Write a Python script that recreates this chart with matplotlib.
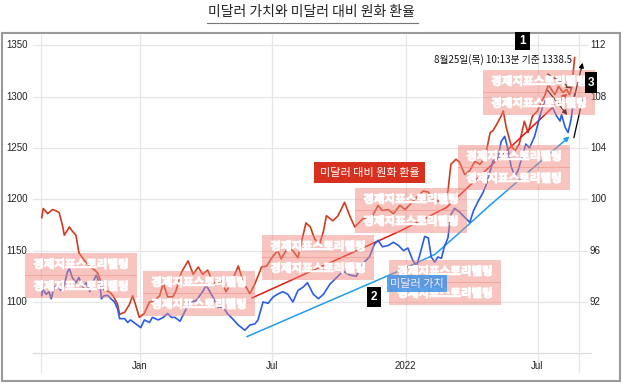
import numpy as np
import matplotlib
matplotlib.use('Agg')
import matplotlib.pyplot as plt
import matplotlib.dates as mdates
import matplotlib.transforms as mtrans
import matplotlib.patheffects as pe
from matplotlib.patches import Rectangle
from matplotlib.lines import Line2D

W, H = 622, 384
KR = ['Noto Sans CJK KR', 'DejaVu Sans']
NUM = ['Liberation Sans', 'DejaVu Sans']

START = mdates.date2num(np.datetime64('2020-08-19'))

# USD/KRW (left axis), days since START
krw_days = [0, 2, 6, 8, 15, 19, 24, 29, 31, 38, 42, 47, 51, 54, 59, 66, 73, 77, 82, 86,
            93, 98, 104, 107, 114, 120, 125, 129, 134, 141, 148, 154, 162, 167, 173, 180, 184, 192, 201, 208,
            215, 221, 228, 235, 242, 247, 253, 260, 270, 277, 286, 293, 302, 309, 316, 324, 329, 338, 345, 352,
            356, 363, 369, 375, 382, 387, 391, 400, 407, 416, 423, 430, 434, 441, 453, 462, 468, 476, 483, 492,
            499, 506, 515, 524, 531, 537, 546, 553, 558, 562, 569, 574, 581, 588, 595, 602, 609, 616, 620, 625,
            631, 634, 638, 645, 650, 656, 663, 668, 674, 681, 687, 691, 696, 700, 705, 710, 716, 721, 725, 728, 732]
krw = [1182, 1191, 1188, 1186, 1190, 1189, 1187, 1173, 1165, 1173, 1169, 1165, 1148, 1145, 1140, 1134, 1131, 1128, 1118, 1111,
       1110, 1106, 1098, 1088, 1090, 1097, 1106, 1097, 1085, 1089, 1100, 1101, 1106, 1118, 1105, 1105, 1110, 1129, 1140, 1127,
       1134, 1127, 1131, 1119, 1118, 1121, 1110, 1118, 1135, 1119, 1108, 1118, 1134, 1135, 1143, 1150, 1142, 1153, 1150, 1143,
       1156, 1177, 1173, 1161, 1157, 1169, 1184, 1179, 1184, 1197, 1184, 1173, 1176, 1181, 1182, 1194, 1189, 1190, 1186, 1194,
       1190, 1195, 1202, 1208, 1207, 1200, 1198, 1197, 1208, 1234, 1239, 1236, 1224, 1228, 1237, 1234, 1241, 1265, 1267, 1273,
       1281, 1286, 1270, 1252, 1247, 1254, 1276, 1265, 1281, 1286, 1296, 1301, 1312, 1307, 1302, 1310, 1304, 1307, 1302, 1309, 1338]

# dollar index (right axis)
dxy_days = [0, 1, 6, 10, 13, 17, 22, 26, 31, 35, 38, 42, 47, 51, 57, 61, 66, 70, 75, 80,
            82, 86, 91, 95, 100, 104, 107, 114, 118, 122, 129, 136, 141, 148, 152, 160, 167, 173, 178, 183,
            190, 197, 203, 212, 221, 226, 235, 242, 249, 255, 262, 270, 279, 286, 293, 297, 304, 311, 318, 324,
            331, 338, 345, 352, 359, 365, 373, 380, 387, 396, 405, 414, 423, 432, 441, 450, 457, 462, 468, 476,
            483, 490, 497, 503, 510, 515, 519, 526, 531, 535, 540, 544, 549, 553, 558, 562, 567, 574, 581, 588,
            593, 600, 606, 611, 616, 620, 627, 631, 636, 640, 645, 650, 654, 661, 665, 670, 677, 684, 689, 694,
            698, 703, 707, 712, 714, 719, 723, 727, 730, 732]
dxy = [92.5, 93.0, 92.6, 92.8, 92.25, 93.15, 93.3, 92.9, 93.3, 94.3, 94.6, 93.9, 93.5, 93.9, 93.15, 93.5, 92.8, 93.5, 94.1, 93.3,
       92.25, 92.5, 92.5, 92.25, 92.0, 91.5, 90.7, 90.7, 90.4, 90.6, 90.3, 90.0, 90.6, 90.4, 90.8, 90.6, 90.8, 91.1, 90.8, 90.8,
       90.5, 91.3, 92.0, 92.1, 92.8, 93.3, 92.4, 91.6, 91.6, 91.1, 90.7, 90.2, 89.8, 90.2, 90.3, 90.6, 92.0, 91.9, 92.4, 92.6,
       92.8, 92.6, 92.0, 92.9, 93.15, 93.5, 92.6, 92.25, 92.6, 93.4, 93.9, 94.4, 94.1, 94.0, 95.0, 95.5, 96.5, 96.8, 96.3, 96.4,
       96.65, 96.4, 96.0, 96.2, 95.2, 94.8, 95.6, 97.1, 97.0, 95.5, 95.1, 95.5, 95.4, 96.3, 97.0, 98.8, 99.3, 99.0, 98.6, 98.2,
       99.1, 99.9, 100.5, 101.2, 102.2, 103.0, 103.25, 104.5, 104.9, 104.0, 102.5, 101.8, 102.2, 103.5, 104.3, 104.0, 104.9, 106.4, 107.4, 107.9,
       107.4, 107.0, 106.5, 106.1, 106.6, 105.6, 105.2, 106.2, 107.4, 108.2]

# hand-drawn trend arrows
krw_trend_days = [289, 492, 556, 722]
krw_trend = [1104, 1169, 1192, 1303]
dxy_trend_days = [282, 396, 492, 540, 574, 615, 725]
dxy_trend = [89.3, 92.1, 94.45, 95.7, 97.4, 99.5, 104.9]

# small black arrows near the latest values (left-axis units)
arrow_from_days = [695, 695, 728, 731]
arrow_from_krw = [1322, 1306, 1289, 1260]
arrow_to_days = [728, 722, 743, 743]
arrow_to_krw = [1308, 1282, 1333, 1298]

left_ticks = [1100, 1150, 1200, 1250, 1300, 1350]
right_ticks = [92, 96, 100, 104, 108, 112]
x_tick_dates = ['2021-01-01', '2021-07-01', '2022-01-01', '2022-07-01']
x_labels = ['Jan', 'Jul', '2022', 'Jul']

title = '미달러 가치와 미달러 대비 원화 환율'
krw_label = '미달러 대비 원화 환율'
dxy_label = '미달러 가치'
note = '8월25일(목) 10:13분 기준 1338.5'
watermark = '경제지표스토리텔링'


def fx(x):
    return x / W


def fy(y):
    return 1 - y / H


fig = plt.figure(figsize=(W / 100, H / 100), dpi=100)
ax = fig.add_axes([fx(41), fy(353.3), (579 - 41) / W, (353.3 - 35) / H])
ax2 = ax.twinx()
for a in (ax, ax2):
    a.set_facecolor('none')
    for s in a.spines.values():
        s.set_visible(False)
    a.set_xticks([])
    a.set_yticks([])

x0, x1 = START - 1, START + 738
ax.set_xlim(x0, x1)
ax.set_ylim(1050, 1360)
ax2.set_ylim(88, 112.8)

grid = '#e6e6e6'
for v in left_ticks:
    ax.axhline(v, xmin=-0.015, xmax=1.015, color=grid, lw=0.9, clip_on=False, zorder=0)
ax.axhline(1050, xmin=-0.015, xmax=1.022, color='#dcdcdc', lw=0.9, clip_on=False, zorder=0)
xt = [mdates.date2num(np.datetime64(d)) for d in x_tick_dates]
for v in [x0, x1] + xt:
    ax.axvline(v, ymin=-0.06, ymax=1, color=grid, lw=0.9, clip_on=False, zorder=0)

lt = mtrans.blended_transform_factory(fig.transFigure, ax.transData)
for v in left_ticks:
    ax.text(fx(6), v, str(v), transform=lt, ha='left', va='center', fontsize=7, family=NUM, color='#222')
rt = mtrans.blended_transform_factory(fig.transFigure, ax2.transData)
for v in right_ticks:
    ax2.text(fx(590), v, str(v), transform=rt, ha='left', va='center', fontsize=7, family=NUM, color='#222')
bt = mtrans.blended_transform_factory(ax.transData, fig.transFigure)
for v, lab in zip(xt, x_labels):
    ax.text(v, fy(366), lab, transform=bt, ha='center', va='center', fontsize=7, family=NUM, color='#222')

ax.plot(START + np.array(krw_days), krw, color='#d03a1e', lw=1.2, zorder=3)
ax2.plot(START + np.array(dxy_days), dxy, color='#2a5ce8', lw=1.2, zorder=3)

# trend arrows
kd = START + np.array(krw_trend_days)
ax.plot(kd[:-1], krw_trend[:-1], color='#e8160e', lw=1.1, zorder=2)
ax.annotate('', xy=(kd[-1], krw_trend[-1]), xytext=(kd[-2], krw_trend[-2]),
            arrowprops=dict(arrowstyle='-|>', color='#e8160e', lw=1.1, mutation_scale=7, shrinkA=0, shrinkB=0),
            annotation_clip=False)
dd = START + np.array(dxy_trend_days)
ax2.plot(dd[:-1], dxy_trend[:-1], color='#1e9cf0', lw=1.1, zorder=2)
ax2.annotate('', xy=(dd[-1], dxy_trend[-1]), xytext=(dd[-2], dxy_trend[-2]),
             arrowprops=dict(arrowstyle='-|>', color='#1e9cf0', lw=1.1, mutation_scale=7, shrinkA=0, shrinkB=0),
             annotation_clip=False)

for a_d, a_v, b_d, b_v in zip(arrow_from_days, arrow_from_krw, arrow_to_days, arrow_to_krw):
    ax2.annotate('', xy=(START + b_d, 88 + (b_v - 1050) * 0.08), xytext=(START + a_d, 88 + (a_v - 1050) * 0.08),
                 arrowprops=dict(arrowstyle='-|>', color='black', lw=0.9, mutation_scale=7, shrinkA=0, shrinkB=0),
                 annotation_clip=False, zorder=8)


def box(x0, y0, x1, y1, z=5, **kw):
    r = Rectangle((fx(x0), fy(y1)), (x1 - x0) / W, (y1 - y0) / H, transform=fig.transFigure, zorder=z, **kw)
    fig.add_artist(r)


# watermarks
wm_pos = [(25, 253), (143, 271), (262, 235), (355, 188), (389, 260), (458, 145), (483, 70)]
stroke = [pe.withStroke(linewidth=0.7, foreground='white')]
for (wx, wy) in wm_pos:
    for k in range(2):
        top = wy + k * 22
        box(wx, top, wx + 112, top + 23, z=6, facecolor='#ef857a', edgecolor='none', alpha=0.48)
        fig.text(fx(wx + 56), fy(top + 11.5), watermark, ha='center', va='center', fontsize=8.3,
                 fontweight='bold', family=KR, color='white', alpha=0.95, zorder=7, path_effects=stroke)

# series labels
box(314, 162, 425, 183, z=9, facecolor='#d8301f', edgecolor='none')
fig.text(fx(369.5), fy(172.5), krw_label, ha='center', va='center', fontsize=8, family=KR, color='white', zorder=10)
box(387, 275, 447, 292, z=9, facecolor='#3f93e6', edgecolor='none', alpha=0.85)
fig.text(fx(417), fy(283.5), dxy_label, ha='center', va='center', fontsize=8, family=KR, color='#f4eaf2', zorder=10)

# numbered markers
for (bx0, by0, bx1, by1, num) in [(515, 32, 530, 50, '1'), (367, 287, 381, 307, '2'), (585, 72, 597, 93, '3')]:
    box(bx0, by0, bx1, by1, z=9, facecolor='black', edgecolor='none')
    fig.text(fx((bx0 + bx1) / 2), fy((by0 + by1) / 2), num, ha='center', va='center', fontsize=8.5,
             fontweight='bold', family=NUM, color='white', zorder=10)

fig.text(fx(503), fy(60), note, ha='center', va='center', fontsize=7, family=KR, color='#111', zorder=10)

# frame, title
box(2, 33, 620, 381, z=1, fill=False, edgecolor='#9a9a9a', lw=1.5)
fig.text(fx(311), fy(12), title, ha='center', va='center', fontsize=10, family=KR, color='#222')
fig.add_artist(Line2D([fx(207), fx(418)], [fy(23), fy(23)], transform=fig.transFigure, color='#777', lw=0.8))

fig.savefig('out.png', dpi=100)
